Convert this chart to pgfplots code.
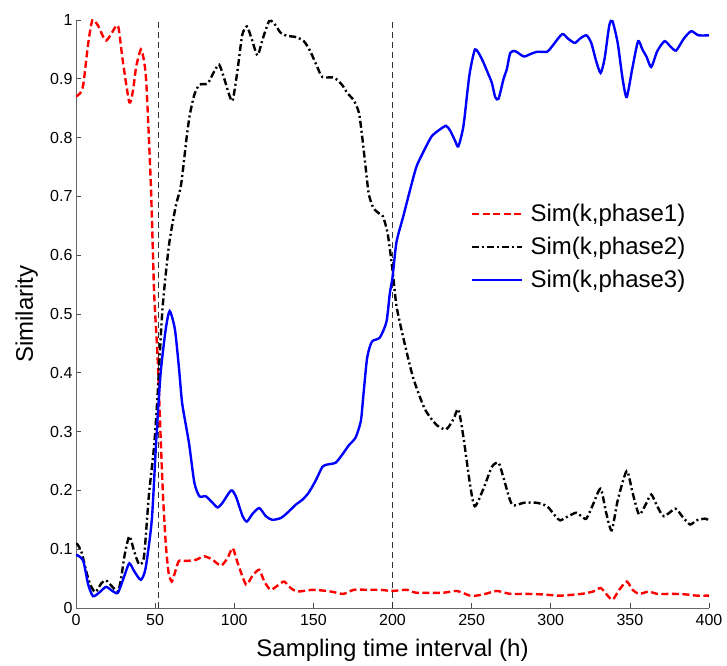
\documentclass[border=0pt]{standalone}
\usepackage{fontspec}
\setmainfont{Liberation Sans}
\usepackage{pgfplots}
\pgfplotsset{compat=1.18}
\begin{document}
\begin{tikzpicture}
\useasboundingbox (-76pt,-57pt) rectangle (651pt,608pt);
\begin{axis}[
  at={(0,0)}, anchor=south west,
  scale only axis, width=633pt, height=588pt,
  xmin=0, xmax=400, ymin=0, ymax=1,
  axis x line*=bottom, axis y line*=left,
  axis line style={draw=black!60, line width=0.9pt, -},
  tick align=inside, major tick length=5pt,
  tick style={black!70, line width=0.7pt},
  xtick={0,50,100,150,200,250,300,350,400},
  xticklabels={0,50,100,150,200,250,300,350,400},
  ytick={0,0.1,0.2,0.3,0.4,0.5,0.6,0.7,0.8,0.9,1},
  yticklabels={0,0.1,0.2,0.3,0.4,0.5,0.6,0.7,0.8,0.9,1},
  ticklabel style={font=\fontsize{16pt}{18pt}\selectfont},
  xticklabel style={yshift=-3pt},
  xlabel={Sampling time interval (h)},
  ylabel={Similarity},
  label style={font=\fontsize{24pt}{28pt}\selectfont},
  xlabel style={at={(axis description cs:0.5,-0.0833)}, anchor=base},
  ylabel style={at={(axis description cs:-0.068,0.5)}, anchor=base},
  legend cell align=left,
  legend image code/.code={\draw[#1] (0pt,0pt) -- (50pt,0pt);},
  legend style={draw=none, fill=none, at={(axis description cs:0.624,0.69)}, anchor=north west,
    inner sep=0pt, font=\fontsize{24pt}{28pt}\selectfont,
    nodes={inner sep=2pt}, column sep=5pt, row sep=10pt},
]
\addplot[forget plot, black!80, line width=0.7pt, dash pattern=on 6pt off 4pt] coordinates {(52,0) (52,1)};
\addplot[forget plot, black!80, line width=0.7pt, dash pattern=on 6pt off 4pt] coordinates {(200,0) (200,1)};

\addplot[red, line width=2.4pt, dash pattern=on 7pt off 3.5pt, smooth, tension=0.4] coordinates {
(0,0.87) (2.5,0.875) (4.6,0.89) (7.7,0.96) (10.4,1.0) (14,0.99) (19,0.965) (25.4,0.99) (27,0.985)
(29.6,0.93) (33.7,0.86) (36,0.88) (38,0.92) (41,0.95) (43,0.93) (44.5,0.89) (47.3,0.72) (49.4,0.535)
(51.5,0.43) (53.5,0.29) (55,0.19) (56.7,0.11) (58.5,0.06) (60.5,0.045) (62.5,0.06) (65,0.08)
(69.5,0.08) (75.8,0.082) (81,0.088) (86.3,0.082) (91.6,0.072) (95.8,0.085) (99,0.102) (102,0.078)
(107.4,0.04) (111.5,0.055) (115.8,0.065) (119,0.045) (123,0.031) (127.3,0.038) (131.5,0.045)
(135.7,0.034) (140,0.028) (150,0.031) (161,0.028) (169,0.024) (175.6,0.031) (184,0.031) (192,0.031)
(200,0.029) (208.9,0.031) (215,0.026) (232,0.026) (240.6,0.029) (249,0.021) (253,0.021) (258.6,0.024)
(266,0.029) (274.4,0.024) (285,0.024) (295.6,0.023) (306,0.021) (319.4,0.024) (326.7,0.028)
(331.5,0.034) (335,0.024) (339,0.014) (343.3,0.031) (348,0.045) (351.7,0.031) (355.8,0.024)
(362,0.028) (367.3,0.024) (377.7,0.024) (386,0.023) (392.3,0.021) (400,0.021)
};
\addlegendentry{Sim(k,phase1)}

\addplot[black, line width=2.4pt, dash pattern=on 7pt off 3pt on 2pt off 3pt, smooth, tension=0.4] coordinates {
(0,0.11) (1,0.108) (3.5,0.095) (6.7,0.06) (9,0.04) (11.9,0.027) (14,0.033) (16,0.042) (19,0.047)
(23,0.036) (26.5,0.028) (28.5,0.05) (30.6,0.088) (33.7,0.122) (36.9,0.095) (40,0.074) (43,0.088)
(46,0.19) (49.4,0.277) (51.5,0.359) (54.6,0.507) (58.7,0.616) (63,0.683) (66.4,0.72) (69.9,0.80)
(72,0.84) (74.8,0.873) (78,0.89) (83.2,0.892) (87.4,0.913) (90.5,0.924) (93.7,0.90) (96.8,0.873)
(99,0.863) (102,0.913) (105,0.974) (108,0.989) (111,0.968) (114.7,0.94) (118,0.968) (122,0.998)
(125,0.995) (129.4,0.978) (133.6,0.973) (138.9,0.971) (144,0.964) (148,0.947) (152.5,0.92)
(155.7,0.903) (163,0.902) (168,0.89) (171.4,0.876) (175.6,0.863) (178.8,0.842) (181,0.798)
(183,0.75) (185,0.704) (188,0.68) (192,0.67) (194,0.666) (197,0.636) (200,0.575) (202.5,0.514)
(206.8,0.46) (213,0.392) (220.5,0.338) (228,0.311) (234,0.304) (238.5,0.321) (241.6,0.338)
(244.8,0.291) (249,0.21) (252,0.173) (257.5,0.203) (262.8,0.24) (267,0.247) (270,0.223)
(275.5,0.176) (283,0.179) (291,0.179) (297.7,0.173) (303,0.156) (306,0.149) (311,0.156) (316,0.162)
(319.4,0.156) (322.5,0.152) (326.7,0.176) (331.5,0.203) (335,0.162) (338.5,0.132) (342.3,0.183)
(348,0.233) (351.7,0.196) (355.8,0.159) (360,0.176) (363.5,0.193) (367.3,0.173) (371.5,0.156)
(378.7,0.169) (383,0.156) (388,0.142) (392,0.149) (397.5,0.152) (400,0.149)
};
\addlegendentry{Sim(k,phase2)}

\addplot[blue, line width=2.4pt, smooth, tension=0.4] coordinates {
(0,0.09) (0.8,0.09) (4.6,0.08) (7.7,0.04) (10.8,0.02) (15,0.027) (19,0.036) (23,0.029) (26.5,0.026)
(30.6,0.055) (33.7,0.076) (36.9,0.062) (41,0.048) (44,0.068) (47.9,0.15) (50.8,0.29) (53.5,0.40)
(56.7,0.474) (59.2,0.505) (62.5,0.474) (65,0.41) (67,0.35) (69.5,0.31) (71.6,0.277) (74.8,0.213)
(78,0.19) (82,0.19) (86.3,0.179) (89.5,0.171) (92.6,0.179) (98,0.20) (101,0.19) (105.3,0.156)
(108,0.147) (111.5,0.16) (115.8,0.17) (120,0.156) (124,0.15) (129.4,0.153) (133.6,0.162) (139,0.176)
(143,0.184) (147,0.196) (151.5,0.217) (155.7,0.24) (158.8,0.244) (164,0.247) (168,0.26) (172.5,0.277)
(176.7,0.29) (180,0.318) (181.5,0.359) (184,0.426) (187,0.453) (192,0.46) (196.2,0.487) (198.3,0.535)
(200,0.562) (202.5,0.622) (206.8,0.666) (211,0.71) (215.2,0.751) (220.5,0.781) (224.7,0.802)
(229,0.812) (233.8,0.82) (236.4,0.812) (239.5,0.795) (241.6,0.785) (244.8,0.819) (247.4,0.88)
(249,0.913) (252.2,0.95) (256.4,0.934) (260.7,0.907) (262.8,0.893) (264.9,0.869) (267,0.866)
(270.2,0.90) (272.3,0.917) (274.4,0.944) (277.6,0.947) (282.9,0.938) (287.1,0.942) (291.3,0.946)
(297.7,0.946) (300.8,0.955) (307.2,0.976) (311,0.968) (315.2,0.961) (318.3,0.968) (322.5,0.974)
(325.6,0.961) (328.7,0.93) (331.5,0.91) (334,0.934) (337,0.991) (339,0.998) (342.3,0.961)
(345.4,0.90) (348,0.869) (351.7,0.92) (355.2,0.964) (357.9,0.95) (360.6,0.937) (363.5,0.92)
(367.3,0.947) (371.9,0.964) (375.6,0.955) (379.2,0.948) (384,0.968) (388.7,0.981) (393.3,0.974)
(400,0.974)
};
\addlegendentry{Sim(k,phase3)}
\end{axis}
\end{tikzpicture}
\end{document}
